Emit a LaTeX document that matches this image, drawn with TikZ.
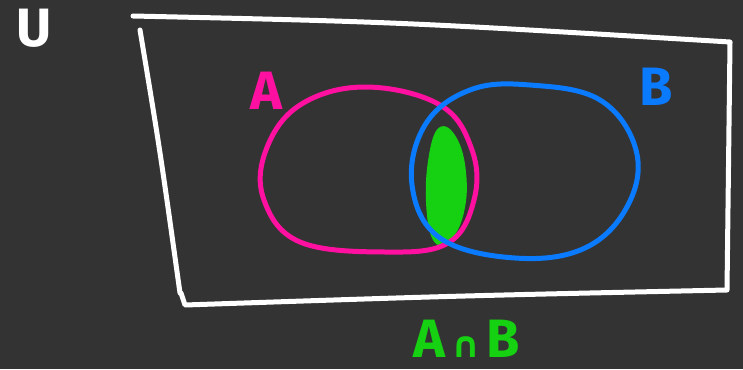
\documentclass[tikz,border=0pt]{standalone}
\usepackage{fontspec}
\setmainfont{Fira Sans}
\newfontfamily\setsymfont{DejaVu Sans}
\usepackage{tikz}
\usetikzlibrary{positioning}
\definecolor{board}{RGB}{51,51,51}
\definecolor{pinkA}{RGB}{255,16,160}
\definecolor{blueB}{RGB}{10,122,255}
\definecolor{greenAB}{RGB}{22,208,18}
\tikzset{
  pen/.style={line width=5pt, line cap=round, line join=round},
  label/.style={font=\fontsize{54}{58}\selectfont\bfseries, inner sep=0pt},
}
\begin{document}
\begin{tikzpicture}[x=1pt,y=-1pt]
				\fill[board] (0,0) rectangle (743,369);
				\useasboundingbox (0,0) rectangle (743,369);
				
				% universe box
				\draw[pen, white] (133,16) .. controls (400,22) .. (730,42) -- (727,290)
					.. controls (450,296) .. (185,305) -- (181,293);
				\draw[pen, white] (140,30) .. controls (160,150) .. (180,293);
				
				% intersection
				\fill[greenAB, pen, draw=greenAB] plot[smooth cycle, tension=0.7] coordinates
					{(440,130) (456,142) (464,178) (461,214) (449,238) (436,240) (429,210) (430,165)};
				
				% set A
				\draw[pen, pinkA] plot[smooth cycle, tension=0.65] coordinates
					{(365,87) (440,105) (472,150) (474,200) (448,243) (385,252) (300,242) (264,200) (266,150) (300,105)};
				% set B
				\draw[pen, blueB] plot[smooth cycle, tension=0.65] coordinates
					{(530,85) (600,100) (636,150) (628,205) (585,248) (515,258) (440,238) (412,185) (425,125) (470,90)};
				
				\node[label, white] (U) at (34,28) {U};
				\node[label, pinkA] (A) at (266,91) {A};
				\node[label, blueB] (B) at (656,87) {B};
				\node[label, greenAB, anchor=base] (AB) at (467,357)
					{A{\setsymfont\fontsize{36}{40}\selectfont\,∩\,}B};
			\end{tikzpicture}
\end{document}
